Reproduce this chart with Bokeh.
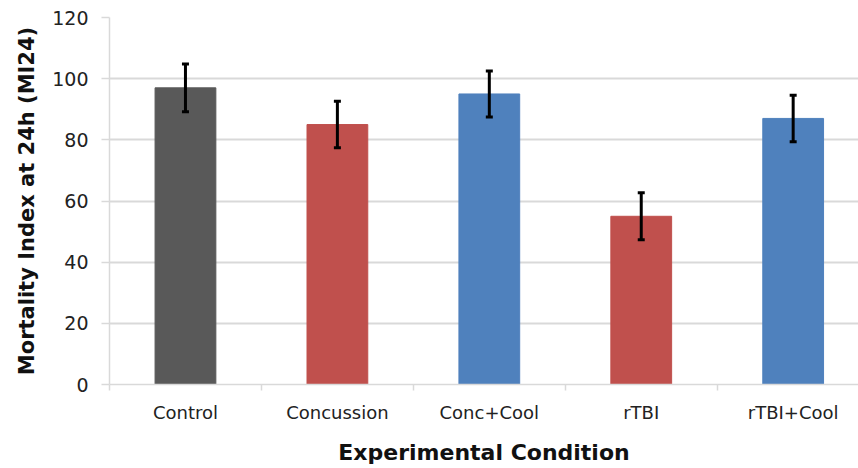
from bokeh.plotting import figure
from bokeh.models import ColumnDataSource, Range1d, FixedTicker, Whisker, TeeHead
from bokeh.embed import file_html
from bokeh.resources import INLINE

categories = ["Control", "Concussion", "Conc+Cool", "rTBI", "rTBI+Cool"]
values = [97, 85, 95, 55, 87]
errors = [7.8, 7.6, 7.5, 7.7, 7.6]
colors = ["#595959", "#c0504d", "#4f81bd", "#c0504d", "#4f81bd"]
y_ticks = [0, 20, 40, 60, 80, 100, 120]
y_title = "Mortality Index at 24h (MI24)"
x_title = "Experimental Condition"

xs = [i + 0.5 for i in range(len(categories))]
src = ColumnDataSource(dict(
    x=xs, top=values, color=colors,
    upper=[v + e for v, e in zip(values, errors)],
    lower=[v - e for v, e in zip(values, errors)],
))

FONT = "DejaVu Sans"

p = figure(width=858, height=468, output_backend="svg", toolbar_location=None,
           x_range=Range1d(0, 4.93), y_range=Range1d(0, 120),
           min_border_left=109, min_border_top=17, min_border_right=0,
           min_border_bottom=84)
p.outline_line_color = None
p.background_fill_color = "white"

p.vbar(x="x", top="top", width=0.4, bottom=0, color="color", source=src)

w = Whisker(source=src, base="x", upper="upper", lower="lower",
            line_color="black", line_width=3, level="overlay",
            upper_head=TeeHead(size=7, line_width=3, line_color="black"),
            lower_head=TeeHead(size=7, line_width=3, line_color="black"))
p.add_layout(w)

# x axis
p.xaxis.ticker = FixedTicker(ticks=xs, minor_ticks=[0, 1, 2, 3, 4, 5])
p.xaxis.major_label_overrides = {x: c for x, c in zip(xs, categories)}
p.xaxis.major_tick_line_color = None
p.xaxis.major_tick_out = 0
p.xaxis.major_tick_in = 0
p.xaxis.minor_tick_line_color = "#d9d9d9"
p.xaxis.minor_tick_out = 6
p.xaxis.minor_tick_in = 0
p.xaxis.minor_tick_line_width = 1.5
p.xaxis.axis_line_color = "#d9d9d9"
p.xaxis.axis_line_width = 1.5
p.xaxis.major_label_standoff = 11
p.xaxis.major_label_text_font = FONT
p.xaxis.major_label_text_font_size = "18px"
p.xaxis.major_label_text_color = "#222222"
p.xaxis.axis_label = x_title
p.xaxis.axis_label_text_font = FONT
p.xaxis.axis_label_text_font_style = "bold"
p.xaxis.axis_label_text_font_size = "22px"
p.xaxis.axis_label_text_color = "#111111"
p.xaxis.axis_label_standoff = 14

# y axis
p.yaxis.ticker = FixedTicker(ticks=y_ticks)
p.yaxis.minor_tick_line_color = None
p.yaxis.major_tick_line_color = "#d9d9d9"
p.yaxis.major_tick_line_width = 1.5
p.yaxis.major_tick_out = 8
p.yaxis.major_tick_in = 0
p.yaxis.axis_line_color = "#d9d9d9"
p.yaxis.axis_line_width = 1.5
p.yaxis.major_label_standoff = 13
p.yaxis.major_label_text_font = FONT
p.yaxis.major_label_text_font_size = "19px"
p.yaxis.major_label_text_color = "#222222"
p.yaxis.axis_label = y_title
p.yaxis.axis_label_text_font = FONT
p.yaxis.axis_label_text_font_style = "bold"
p.yaxis.axis_label_text_font_size = "21px"
p.yaxis.axis_label_text_color = "#111111"
p.yaxis.axis_label_standoff = 10

p.xgrid.grid_line_color = None
p.ygrid.ticker = FixedTicker(ticks=y_ticks)
p.ygrid.grid_line_color = "#d9d9d9"
p.ygrid.grid_line_width = 2

open("out.html", "w").write(file_html(p, INLINE))
